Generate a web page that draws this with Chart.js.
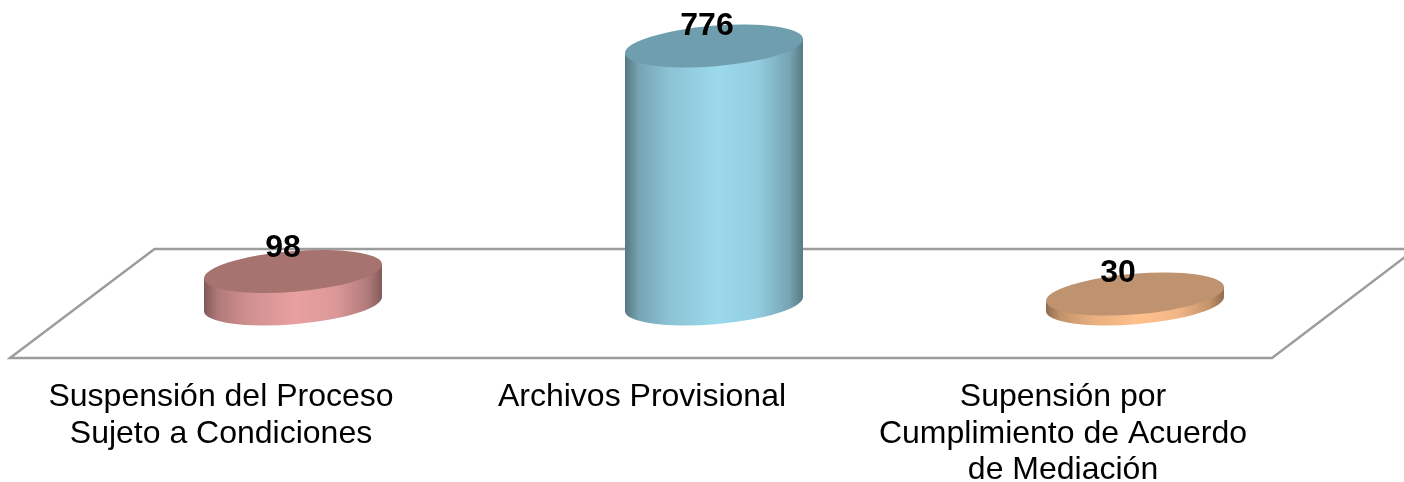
<!DOCTYPE html>
<html>
<head>
<meta charset="utf-8">
<style>html,body{margin:0;padding:0;background:#fff}canvas{display:block}</style>
<script src="https://cdn.jsdelivr.net/npm/chart.js@4/dist/chart.umd.min.js"></script>
</head>
<body>
<canvas id="c" width="1404" height="482"></canvas>
<script>
const categories = [
  ["Suspensión del Proceso", "Sujeto a Condiciones"],
  ["Archivos Provisional"],
  ["Supensión por", "Cumplimiento de Acuerdo", "de Mediación"]
];
const values = [98, 776, 30];
const sideColors = ["#E8A0A0", "#9BD9EC", "#FFC08C"];
const topColors = ["#A6736F", "#6F9FAF", "#BF936F"];
const labelShiftX = [-10, -7, -17];
const labelShiftY = [-23, -20, -21];
const FONT = "'Liberation Sans', Arial, sans-serif";

function shade(hex, f) {
  const n = parseInt(hex.slice(1), 16);
  const ch = s => Math.round(((n >> s) & 255) * f);
  return `rgb(${ch(16)},${ch(8)},${ch(0)})`;
}
const TILT = 0.0827, RY = 20.3;
const stops = [[0,0.55],[0.08,0.76],[0.25,0.9],[0.52,1],[0.74,0.95],[0.92,0.76],[1,0.56]];

const cylinders = {
  id: "cylinders",
  beforeDatasetsDraw(chart) {
    const ctx = chart.ctx, a = chart.chartArea;
    const floorBottom = a.bottom + 54;
    const floorTop = a.bottom - 55;
    ctx.save();
    ctx.strokeStyle = "#9C9C9C";
    ctx.lineWidth = 2.4;
    ctx.beginPath();
    ctx.moveTo(a.left - 72.5, floorBottom);
    ctx.lineTo(a.left + 72, floorTop);
    ctx.lineTo(a.right + 70, floorTop);
    ctx.lineTo(a.right - 73.5, floorBottom);
    ctx.closePath();
    ctx.stroke();
    ctx.restore();
  },
  afterDatasetsDraw(chart) {
    const ctx = chart.ctx;
    const meta = chart.getDatasetMeta(0);
    meta.data.forEach((bar, i) => {
      const cx = bar.x, rx = bar.width / 2 + 0.3;
      const topY = bar.y, baseY = bar.base;
      const dy = Math.sin(TILT) * rx;
      const g = ctx.createLinearGradient(cx - rx, 0, cx + rx, 0);
      stops.forEach(s => g.addColorStop(s[0], shade(sideColors[i], s[1])));
      ctx.save();
      ctx.fillStyle = g;
      ctx.beginPath();
      ctx.ellipse(cx, baseY, rx, RY, -TILT, Math.PI, 0, true);
      ctx.lineTo(cx + rx * Math.cos(TILT), topY - dy);
      ctx.lineTo(cx - rx * Math.cos(TILT), topY + dy);
      ctx.closePath();
      ctx.fill();
      ctx.fillStyle = topColors[i];
      ctx.beginPath();
      ctx.ellipse(cx, topY, rx, RY, -TILT, 0, Math.PI * 2);
      ctx.fill();
      ctx.fillStyle = "#000";
      ctx.font = "bold 32px " + FONT;
      ctx.textAlign = "center";
      ctx.textBaseline = "middle";
      ctx.fillText(String(values[i]), cx + labelShiftX[i], topY + labelShiftY[i]);
      ctx.restore();
    });
  }
};

new Chart(document.getElementById("c"), {
  type: "bar",
  data: {
    labels: categories,
    datasets: [{
      data: values,
      backgroundColor: "rgba(0,0,0,0)",
      borderWidth: 0,
      barThickness: 178
    }]
  },
  options: {
    responsive: false,
    animation: false,
    layout: { padding: { left: 82.5, right: 58.5, top: 46, bottom: 0 } },
    plugins: { legend: { display: false }, tooltip: { enabled: false }, title: { display: false } },
    scales: {
      x: {
        grid: { display: false, drawBorder: false },
        border: { display: false },
        afterFit(s) { s.height = 178; },
        ticks: {
          autoSkip: false,
          maxRotation: 0,
          minRotation: 0,
          labelOffset: -72,
          padding: 67,
          color: "#000",
          font: { family: FONT, size: 32, lineHeight: 1.145 }
        }
      },
      y: { display: false, min: 0, max: 776 }
    }
  },
  plugins: [cylinders]
});
</script>
</body>
</html>
